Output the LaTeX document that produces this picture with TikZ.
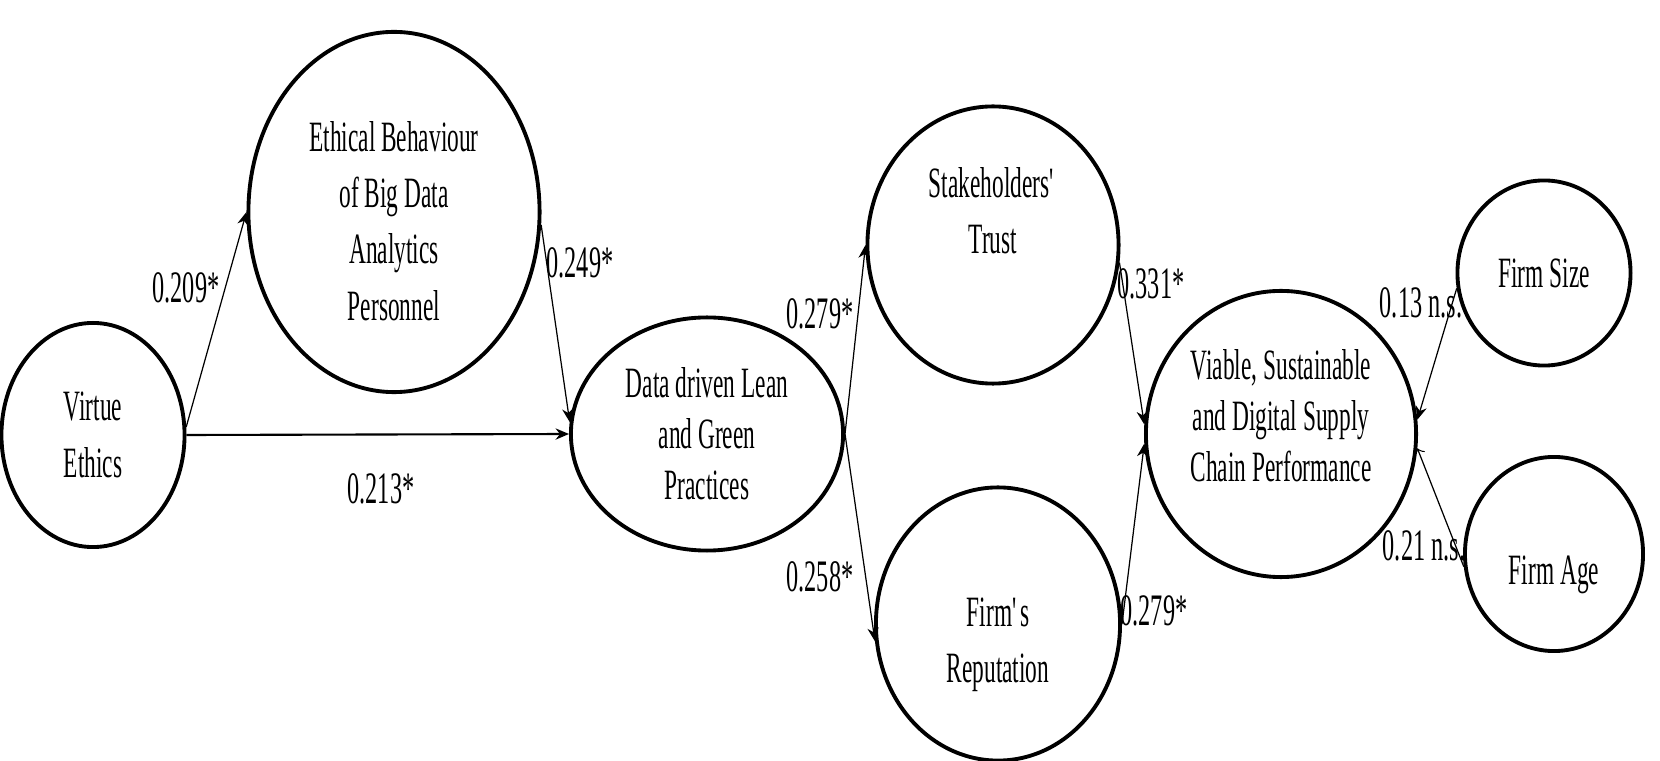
\documentclass[tikz,border=0pt]{standalone}
\usepackage{fontspec}
\setmainfont[FakeStretch=0.54]{Liberation Serif}
\usetikzlibrary{shapes.geometric, arrows.meta}

\tikzset{
  construct/.style={draw, line width=1.1pt, ellipse, inner sep=0pt, align=center,
    font=\fontsize{12.3}{16}\selectfont},
  cname/.style={align=center, inner sep=0pt, font=\fontsize{12.3}{16}\selectfont},
  tight/.style={font=\fontsize{12.3}{14.5}\selectfont},
  link/.style={->, line width=0.35pt},
  coef/.style={font=\fontsize{12.8}{14}\selectfont, inner sep=1pt}
}

\begin{document}
\begin{tikzpicture}[x=0.01cm, y=-0.01cm, >={Stealth[length=3.8pt, width=3.2pt]}]
    \useasboundingbox (0,0) rectangle (1660,761);

    % constructs
    \node[construct, minimum width=1.83cm, minimum height=2.24cm] (VE) at (93,435) {Virtue\\Ethics};
    \node[construct, minimum width=2.91cm, minimum height=3.60cm,
      label={[cname, yshift=-0.09cm]center:{Ethical Behaviour\\of Big Data\\Analytics\\Personnel}}] (EB) at (394,212) {};
    \node[construct, tight, minimum width=2.72cm, minimum height=2.33cm] (DD) at (707,434) {Data driven Lean\\and Green\\Practices};
    \node[construct, minimum width=2.51cm, minimum height=2.77cm,
      label={[cname, yshift=0.34cm]center:{Stakeholders\textquotesingle\\Trust}}] (ST) at (993,245) {};
    \node[construct, minimum width=2.44cm, minimum height=2.73cm,
      label={[cname, yshift=-0.21cm]center:{Firm\textquotesingle s\\Reputation}}] (FR) at (998,624) {};
    \node[construct, minimum width=2.70cm, minimum height=2.86cm,
      label={[cname, tight, yshift=0.18cm]center:{Viable, Sustainable\\and Digital Supply\\Chain Performance}}] (VS) at (1281,434) {};
    \node[construct, minimum width=1.73cm, minimum height=1.85cm] (FS) at (1544,273) {Firm Size};
    \node[construct, minimum width=1.78cm, minimum height=1.94cm,
      label={[cname, yshift=-0.21cm]center:{Firm Age}}] (FA) at (1554,554) {};

    % paths
    \draw[link] (VE.5) -- (EB.west);
    \draw[link] (EB.355) -- (DD.175);
    \draw[->, line width=0.6pt] (VE.east) -- (DD.west);
    \draw[link] (DD.east) -- (ST.west);
    \draw[link] (DD.east) -- (FR.188);
    \draw[link] (ST.352) -- (VS.176);
    \draw[link] (FR.east) -- (VS.184);
    \draw[link] (FS.190) -- (VS.6);
    \draw[line width=0.35pt, -to] (FA.188) -- (VS.354);

    % coefficients
    \node[coef] (c1) at (186,288) {0.209*};
    \node[coef] (c2) at (580,263) {0.249*};
    \node[coef] (c3) at (381,489) {0.213*};
    \node[coef] (c4) at (820,314) {0.279*};
    \node[coef] (c5) at (820,577) {0.258*};
    \node[coef] (c6) at (1151,284) {0.331*};
    \node[coef] (c7) at (1154,611) {0.279*};
    \node[coef] (c8) at (1421,303) {0.13 n.s.};
    \node[coef] (c9) at (1424,546) {0.21 n.s.};
  \end{tikzpicture}
\end{document}
